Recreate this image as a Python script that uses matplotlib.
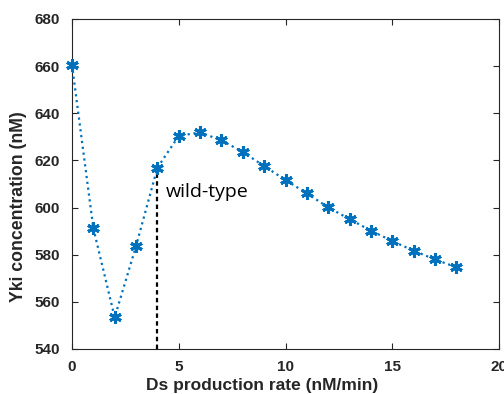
import matplotlib
matplotlib.use("Agg")
import matplotlib.pyplot as plt

# Data
ds_rate = list(range(19))
yki_conc = [660.5, 591.2, 553.4, 583.7, 616.9, 630.4, 631.9, 628.5, 623.6,
            617.6, 611.7, 606.0, 600.1, 595.1, 590.2, 585.8, 581.7, 578.0, 574.7]
wt_rate = 4
wt_conc = 616.9

plt.rcParams['font.family'] = ['Liberation Sans', 'DejaVu Sans']

fig = plt.figure(figsize=(5.04, 3.94), dpi=100)
ax = fig.add_axes([72 / 504, 45 / 394, 427 / 504, 330 / 394])

ax.plot(ds_rate, yki_conc, linestyle=':', linewidth=1.6, color='#0072BD',
        marker=(6, 2, 0), markersize=9, markeredgewidth=2.2, clip_on=False,
        zorder=3)
ax.plot([wt_rate, wt_rate], [540, wt_conc], linestyle='--', color='black',
        linewidth=1.6, dashes=(2, 1.5))
ax.text(4.4, 606.5, 'wild-type', fontsize=14, family=['Open Sans', 'DejaVu Sans'],
        ha='left', va='center')

ax.set_xlim(0, 20)
ax.set_ylim(540, 680)
ax.set_xticks([0, 5, 10, 15, 20])
ax.set_yticks(range(540, 681, 20))
ax.tick_params(direction='in', top=True, right=True, length=4, width=0.8,
               labelsize=11, colors='#262626')
ax.tick_params(axis='x', pad=8)
ax.tick_params(axis='y', pad=9)
for lab in ax.get_xticklabels() + ax.get_yticklabels():
    lab.set_fontweight('bold')
for sp in ax.spines.values():
    sp.set_color('#262626')
    sp.set_linewidth(0.8)

ax.set_xlabel('Ds production rate (nM/min)', fontsize=12.5, fontweight='bold',
              color='#262626', va='center')
ax.xaxis.set_label_coords(0.445, -0.112)
ax.set_ylabel('Yki concentration (nM)', fontsize=12.7, fontweight='bold',
              color='#262626', va='center', ha='center')
ax.yaxis.set_label_coords(-0.126, 0.43)

fig.savefig('out.png', dpi=100)
